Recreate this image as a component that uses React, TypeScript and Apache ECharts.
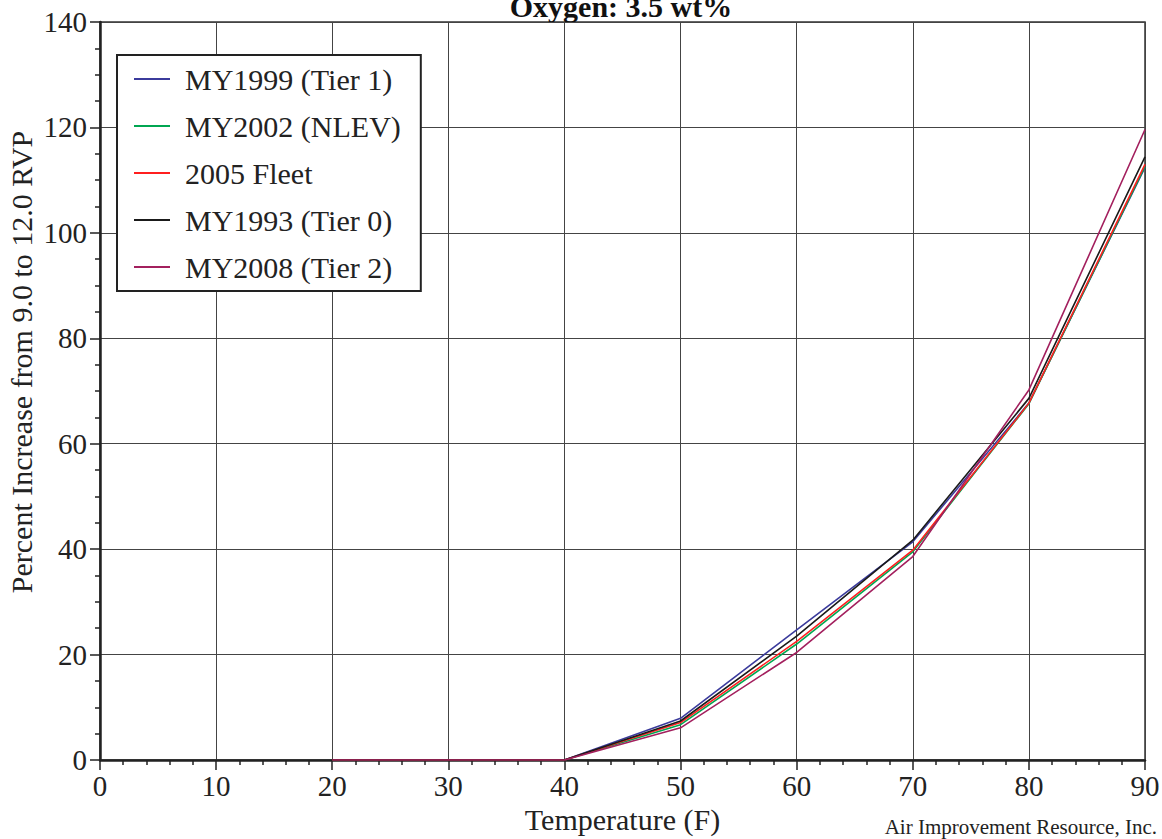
import React, { useEffect, useRef } from "react";
import * as echarts from "echarts";

const temps = [20, 30, 40, 50, 60, 70, 80, 90];
const seriesNames = ["MY1999 (Tier 1)", "MY2002 (NLEV)", "2005 Fleet", "MY1993 (Tier 0)", "MY2008 (Tier 2)"];
const my1999 = [0, 0, 0, 7.9, 24.7, 41.4, 67.7, 112.4];
const my2002 = [0, 0, 0, 6.7, 22.0, 39.5, 67.6, 112.6];
const fleet2005 = [0, 0, 0, 7.1, 22.5, 39.8, 67.7, 113.0];
const my1993 = [0, 0, 0, 7.4, 23.5, 41.7, 68.6, 114.4];
const my2008 = [0, 0, 0, 6.1, 20.4, 38.6, 70.2, 119.6];
const seriesValues = [my1999, my2002, fleet2005, my1993, my2008];
const seriesColors = ["#3b3b9c", "#00a651", "#ff1f1f", "#1a1a1a", "#a3205e"];

const FONT = "Liberation Serif";

export default function App() {
  const ref = useRef<HTMLDivElement>(null);
  useEffect(() => {
    const chart = echarts.init(ref.current!, null, { renderer: "svg" });
    const tick = { fontFamily: FONT, fontSize: 29, color: "#222" };
    const nm = { fontFamily: FONT, fontSize: 30, color: "#222" };
    chart.setOption({
      animation: false,
      backgroundColor: "#fff",
      textStyle: { fontFamily: FONT },
      grid: {
        left: 100,
        right: 17,
        top: 22,
        bottom: 79,
        containLabel: false,
        outerBoundsMode: "none",
        show: true,
        borderColor: "#333",
        borderWidth: 1.5,
      },
      legend: {
        orient: "vertical",
        left: 117,
        top: 55,
        backgroundColor: "#fff",
        borderColor: "#222",
        borderWidth: 2,
        padding: [9, 20, 9, 17],
        itemGap: 17,
        itemWidth: 36,
        itemHeight: 14,
        icon: "path://M0,6 L36,6 L36,8 L0,8 Z",
        textStyle: { fontFamily: FONT, fontSize: 30, color: "#222", padding: [0, 0, 0, 10] },
        data: seriesNames,
      },
      xAxis: {
        type: "value",
        min: 0,
        max: 90,
        interval: 10,
        name: "Temperature (F)",
        nameLocation: "middle",
        nameGap: 43,
        nameTextStyle: nm,
        axisLine: { lineStyle: { color: "#222", width: 2.5 } },
        axisTick: { length: 10, lineStyle: { color: "#222", width: 1.5 } },
        minorTick: { show: true, splitNumber: 5, length: 5, lineStyle: { color: "#222", width: 1.5 } },
        axisLabel: { ...tick, margin: 11 },
        splitLine: { show: true, lineStyle: { color: "#444", width: 1 } },
      },
      yAxis: {
        type: "value",
        min: 0,
        max: 140,
        interval: 20,
        axisLine: { show: true, lineStyle: { color: "#222", width: 2.5 } },
        axisTick: { show: true, length: 10, lineStyle: { color: "#222", width: 1.5 } },
        minorTick: { show: true, splitNumber: 4, length: 5, lineStyle: { color: "#222", width: 1.5 } },
        axisLabel: { ...tick, margin: 13 },
        splitLine: { show: true, lineStyle: { color: "#444", width: 1 } },
      },
      graphic: [
        {
          type: "text",
          x: 621,
          y: -9,
          style: {
            text: "Oxygen: 3.5 wt%",
            font: `bold 30px "${FONT}"`,
            fill: "#111",
            textAlign: "center",
            textVerticalAlign: "top",
          },
        },
        {
          type: "text",
          x: 21,
          y: 362,
          rotation: Math.PI / 2,
          style: {
            text: "Percent Increase from 9.0 to 12.0 RVP",
            font: `30px "${FONT}"`,
            fill: "#222",
            textAlign: "center",
            textVerticalAlign: "middle",
          },
        },
        {
          type: "text",
          x: 1157,
          y: 827,
          style: {
            text: "Air Improvement Resource, Inc.",
            font: `21px "${FONT}"`,
            fill: "#222",
            textAlign: "right",
            textVerticalAlign: "middle",
          },
        },
      ],
      series: seriesNames.map((name, i) => ({
        name,
        type: "line",
        data: temps.map((t, j) => [t, seriesValues[i][j]]),
        showSymbol: false,
        symbol: "none",
        lineStyle: { color: seriesColors[i], width: 1.6 },
        itemStyle: { color: seriesColors[i] },
      })),
    });
    return () => chart.dispose();
  }, []);
  return <div ref={ref} style={{ width: 1162, height: 839, position: "absolute", left: 0, top: 0 }} />;
}
